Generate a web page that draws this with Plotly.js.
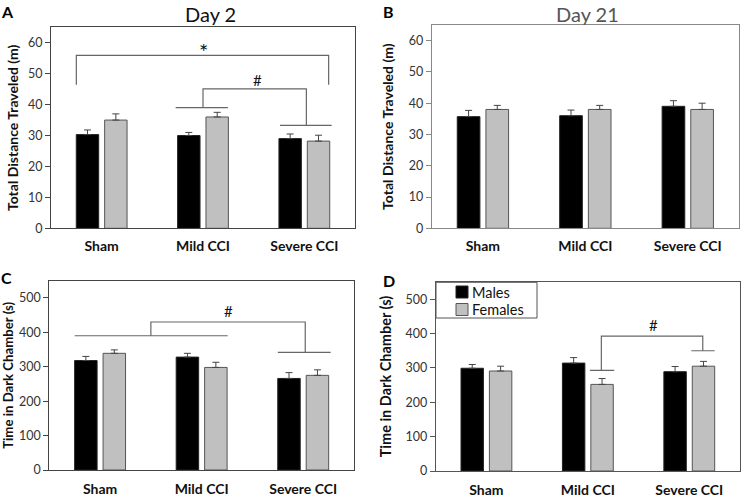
<!DOCTYPE html>
<html>
<head>
<meta charset="utf-8">
<script src="https://cdn.plot.ly/plotly-3.0.1.min.js"></script>
<style>html,body{margin:0;padding:0;background:#fff;}#chart{width:741px;height:498px;}</style>
</head>
<body>
<div id="chart"></div>
<script>
// ---- data ----
var categories = ["Sham", "Mild CCI", "Severe CCI"];
var catPos = [0, 1, 2];
var seriesNames = ["Males", "Females"];

// Panel A: Day 2, total distance (m)
var distDay2Males = [30.3, 30.0, 29.0];
var distDay2MalesErr = [1.5, 1.0, 1.5];
var distDay2Females = [35.0, 36.0, 28.2];
var distDay2FemalesErr = [2.0, 1.5, 1.9];

// Panel B: Day 21, total distance (m)
var distDay21Males = [35.7, 36.0, 39.0];
var distDay21MalesErr = [2.0, 1.8, 1.8];
var distDay21Females = [38.0, 38.0, 38.0];
var distDay21FemalesErr = [1.3, 1.3, 2.0];

// Panel C: Day 2, time in dark chamber (s)
var darkDay2Males = [318, 328, 266];
var darkDay2MalesErr = [12, 11, 17];
var darkDay2Females = [339, 298, 275];
var darkDay2FemalesErr = [10, 15, 16];

// Panel D: Day 21, time in dark chamber (s)
var darkDay21Males = [299, 314, 289];
var darkDay21MalesErr = [11, 16, 15];
var darkDay21Females = [291, 252, 305];
var darkDay21FemalesErr = [14, 17, 14];

var distTicks = [0, 10, 20, 30, 40, 50, 60];
var darkTicks = [0, 100, 200, 300, 400, 500];

// ---- styling ----
var W = 741, H = 498;
var FONT = "Lato, 'Open Sans', sans-serif";
var maleColor = "#000000", femaleColor = "#c0c0c0";
var maleLine = "#222", femaleLine = "#555";

function px(x) { return x / W; }
function py(y) { return 1 - y / H; }

function barPair(xa, ya, m, me, f, fe) {
  return [
    {type: "bar", name: seriesNames[0], x: catPos, y: m, xaxis: xa, yaxis: ya,
     marker: {color: maleColor, line: {color: maleLine, width: 1}},
     error_y: {type: "data", symmetric: false, array: me, arrayminus: m.map(function(){return 0;}),
               color: "#444", thickness: 1, width: 3.5},
     showlegend: false, hoverinfo: "y"},
    {type: "bar", name: seriesNames[1], x: catPos, y: f, xaxis: xa, yaxis: ya,
     marker: {color: femaleColor, line: {color: femaleLine, width: 1}},
     error_y: {type: "data", symmetric: false, array: fe, arrayminus: f.map(function(){return 0;}),
               color: "#444", thickness: 1, width: 3.5},
     showlegend: false, hoverinfo: "y"}
  ];
}

var data = []
  .concat(barPair("x", "y", distDay2Males, distDay2MalesErr, distDay2Females, distDay2FemalesErr))
  .concat(barPair("x2", "y2", distDay21Males, distDay21MalesErr, distDay21Females, distDay21FemalesErr))
  .concat(barPair("x3", "y3", darkDay2Males, darkDay2MalesErr, darkDay2Females, darkDay2FemalesErr))
  .concat(barPair("x4", "y4", darkDay21Males, darkDay21MalesErr, darkDay21Females, darkDay21FemalesErr));

function xAxis(domain, anchor, lineColor, standoff) {
  return {domain: domain, anchor: anchor, range: [-0.5, 2.5], tickvals: catPos, ticktext: categories,
          showgrid: false, zeroline: false, showline: true, mirror: true, linecolor: lineColor, linewidth: 1,
          ticks: "", ticklabelstandoff: standoff, fixedrange: true,
          tickfont: {family: FONT, size: 14, color: "#111", weight: 700}};
}
function yAxis(domain, anchor, range, ticks, title, titleSize, lineColor, standoff) {
  return {domain: domain, anchor: anchor, range: range, tickvals: ticks, showgrid: false, zeroline: false,
          showline: true, mirror: true, linecolor: lineColor, linewidth: 1,
          ticks: "outside", ticklen: 5, tickcolor: lineColor, tickwidth: 1, fixedrange: true,
          tickfont: {family: FONT, size: 12.5, color: "#333"},
          title: {text: title, standoff: standoff, font: {family: FONT, size: titleSize, color: "#111", weight: 700}}};
}

var distTitle = "Total Distance Traveled (m)";
var darkTitle = "Time in Dark Chamber (s)";

var bracketColor = "#666";
function seg(xr, yr, pts) {
  var d = "M" + pts.map(function(p){return p[0] + "," + p[1];}).join(" L");
  return {type: "path", xref: xr, yref: yr, path: d, line: {color: bracketColor, width: 1.2}};
}
function paperRect(x0, y0, x1, y1, fill, line) {
  return {type: "rect", xref: "paper", yref: "paper", x0: px(x0), x1: px(x1), y0: py(y1), y1: py(y0),
          fillcolor: fill, line: {color: line, width: 1}};
}

var shapes = [
  // Panel A
  seg("x", "y", [[-0.25, 46.4], [-0.25, 55.9], [2.24, 55.9], [2.24, 46.4]]),
  seg("x", "y", [[0.73, 39.0], [1.245, 39.0]]),
  seg("x", "y", [[1.76, 33.3], [2.27, 33.3]]),
  seg("x", "y", [[1.0, 39.0], [1.0, 45.1], [2.02, 45.1], [2.02, 33.3]]),
  // Panel C
  seg("x3", "y3", [[-0.25, 390], [1.256, 390]]),
  seg("x3", "y3", [[1.75, 341.5], [2.27, 341.5]]),
  seg("x3", "y3", [[0.5, 390], [0.5, 430], [2.02, 430], [2.02, 341.5]]),
  // Panel D
  seg("x4", "y4", [[1.02, 293], [1.26, 293]]),
  seg("x4", "y4", [[2.02, 350], [2.25, 350]]),
  seg("x4", "y4", [[1.133, 293], [1.133, 392.5], [2.133, 392.5], [2.133, 350]]),
  // Legend (panel D)
  paperRect(436, 282.3, 537, 318, "#fff", "#555"),
  paperRect(456, 286, 468, 298, maleColor, maleLine),
  paperRect(456, 303.5, 468, 315.5, femaleColor, femaleLine)
];

function paperText(text, x, y, size, color, bold, yanchor, xanchor) {
  return {text: text, xref: "paper", yref: "paper", x: px(x), y: py(y), xanchor: xanchor || "center", yanchor: yanchor || "middle",
          showarrow: false, font: {family: FONT, size: size, color: color, weight: bold ? 700 : 400}};
}
function dataText(text, xr, yr, x, y, size) {
  return {text: text, xref: xr, yref: yr, x: x, y: y, xanchor: "center", yanchor: "middle",
          showarrow: false, font: {family: FONT, size: size, color: "#111"}};
}

var annotations = [
  paperText("A", 7, 0, 16, "#000", true, "top"),
  paperText("B", 389, 0, 16, "#000", true, "top"),
  paperText("C", 6, 277, 16, "#000", true),
  paperText("D", 389, 280, 16, "#000", true),
  paperText("Day 2", 210, 0, 20, "#111", false, "top"),
  paperText("Day 21", 587, 0, 20, "#555", false, "top"),
  dataText("*", "x", "y", 1.0, 57.2, 22),
  dataText("#", "x", "y", 1.54, 48.0, 15),
  dataText("#", "x3", "y3", 1.26, 461, 15),
  dataText("#", "x4", "y4", 1.65, 424, 15),
  paperText(seriesNames[0], 470, 292, 14.5, "#111", false, "middle", "left"),
  paperText(seriesNames[1], 470, 309.5, 14.5, "#111", false, "middle", "left")
];

var layout = {
  width: W, height: H,
  margin: {l: 0, r: 0, t: 0, b: 0},
  paper_bgcolor: "#fff", plot_bgcolor: "#fff",
  barmode: "group", bargap: 0.44, bargroupgap: 0.21,
  xaxis:  xAxis([px(51), px(355)], "y", "#444", 5),
  yaxis:  yAxis([py(228.3), py(27.3)], "x", [0, 65], distTicks, distTitle, 14, "#444", 6),
  xaxis2: xAxis([px(431.7), px(739)], "y2", "#888", 5),
  yaxis2: yAxis([py(228.3), py(25)], "x2", [0, 65], distTicks, distTitle, 14, "#888", 11),
  xaxis3: xAxis([px(49.3), px(354)], "y3", "#444", 6),
  yaxis3: yAxis([py(470), py(280.7)], "x3", [0, 550], darkTicks, darkTitle, 13.2, "#444", 6),
  xaxis4: xAxis([px(435.7), px(740)], "y4", "#555", 6),
  yaxis4: yAxis([py(471), py(282)], "x4", [0, 550], darkTicks, darkTitle, 14.5, "#555", 10),
  showlegend: false,
  shapes: shapes,
  annotations: annotations
};

Plotly.newPlot("chart", data, layout, {staticPlot: true, displayModeBar: false});
</script>
</body>
</html>
